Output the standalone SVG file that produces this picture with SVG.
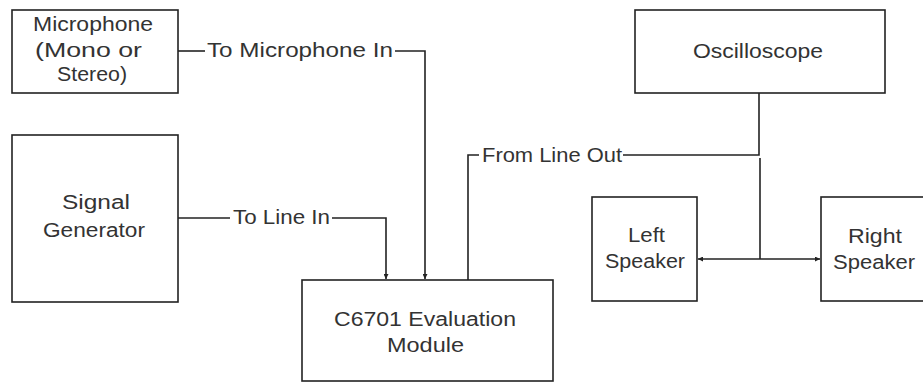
<svg xmlns="http://www.w3.org/2000/svg" width="923" height="383" viewBox="0 0 923 383">
<style>
.box{fill:#fff;stroke:#222;stroke-width:1.6}
.ln{fill:none;stroke:#222;stroke-width:1.6}
text{font-family:"Liberation Sans",Arial,sans-serif;font-size:20px;fill:#333;text-anchor:start}
</style>
<defs>
<marker id="ah" viewBox="0 0 8 8" refX="8" refY="4" markerWidth="5" markerHeight="5" orient="auto" markerUnits="userSpaceOnUse">
<path d="M0,0 L8,4 L0,8 z" fill="#222"/>
</marker>
</defs>
<g id="connectors">
<path class="ln" d="M178,51 H205"/>
<path class="ln" d="M395,51 H425 V279" marker-end="url(#ah)"/>
<text x="207" y="57" textLength="186" lengthAdjust="spacingAndGlyphs">To Microphone In</text>
<path class="ln" d="M178,218 H230"/>
<path class="ln" d="M332,218 H386 V279" marker-end="url(#ah)"/>
<text x="233" y="224" textLength="97" lengthAdjust="spacingAndGlyphs">To Line In</text>
<path class="ln" d="M468,280 V155 H479"/>
<path class="ln" d="M623,155 H759 V93"/>
<text x="482" y="162" textLength="140" lengthAdjust="spacingAndGlyphs">From Line Out</text>
<path class="ln" d="M760,158 V259"/>
<path class="ln" d="M760,259 H698" marker-end="url(#ah)"/>
<path class="ln" d="M760,259 H820" marker-end="url(#ah)"/>
</g>
<g id="microphone">
<rect class="box" x="12" y="10" width="166" height="83"/>
<text x="33" y="31" textLength="120" lengthAdjust="spacingAndGlyphs">Microphone</text>
<text x="35" y="57" textLength="107" lengthAdjust="spacingAndGlyphs">(Mono or</text>
<text x="57" y="81" textLength="70" lengthAdjust="spacingAndGlyphs">Stereo)</text>
</g>
<g id="signal-generator">
<rect class="box" x="12" y="135" width="166" height="167"/>
<text x="62" y="209" textLength="68" lengthAdjust="spacingAndGlyphs">Signal</text>
<text x="43" y="237" textLength="102" lengthAdjust="spacingAndGlyphs">Generator</text>
</g>
<g id="evaluation-module">
<rect class="box" x="302" y="280" width="251" height="101"/>
<text x="334" y="326" textLength="182" lengthAdjust="spacingAndGlyphs">C6701 Evaluation</text>
<text x="387" y="352" textLength="77" lengthAdjust="spacingAndGlyphs">Module</text>
</g>
<g id="oscilloscope">
<rect class="box" x="635" y="10" width="250" height="83"/>
<text x="693" y="58" textLength="130" lengthAdjust="spacingAndGlyphs">Oscilloscope</text>
</g>
<g id="left-speaker">
<rect class="box" x="592" y="197" width="105" height="104"/>
<text x="628" y="242" textLength="37" lengthAdjust="spacingAndGlyphs">Left</text>
<text x="605" y="268" textLength="80" lengthAdjust="spacingAndGlyphs">Speaker</text>
</g>
<g id="right-speaker">
<rect class="box" x="821" y="197" width="110" height="104"/>
<text x="848" y="243" textLength="54" lengthAdjust="spacingAndGlyphs">Right</text>
<text x="833" y="269" textLength="82" lengthAdjust="spacingAndGlyphs">Speaker</text>
</g>
</svg>
